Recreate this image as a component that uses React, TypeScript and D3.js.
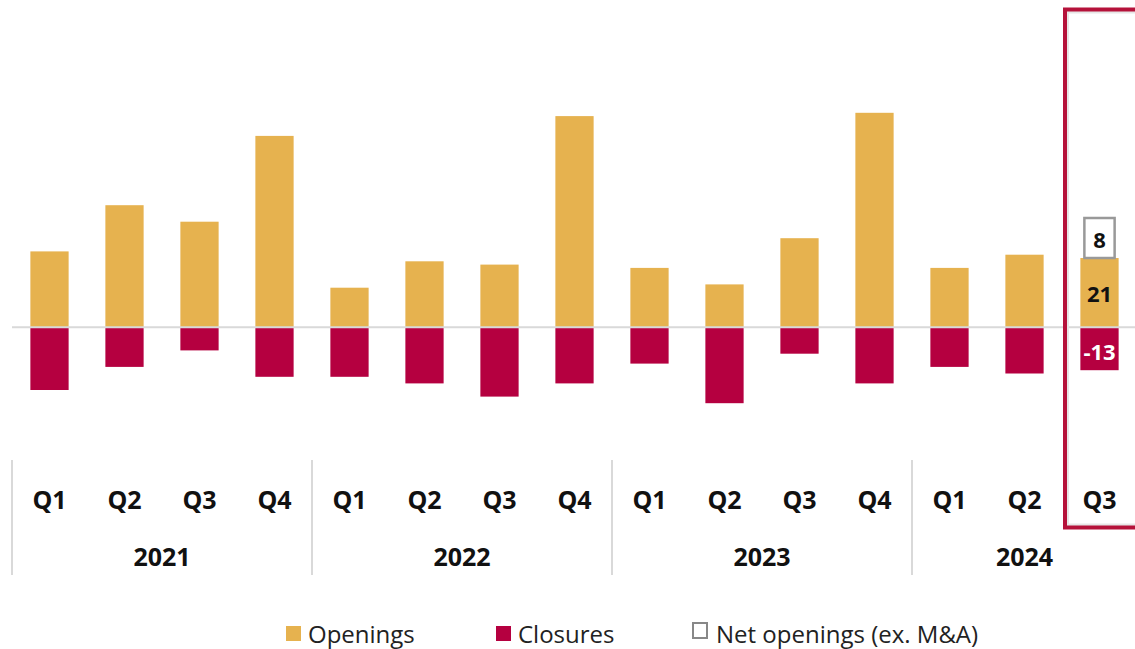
import React from "react";
import * as d3 from "d3";

const years = ["2021", "2022", "2023", "2024"];
const quarters = ["Q1", "Q2", "Q3", "Q4", "Q1", "Q2", "Q3", "Q4", "Q1", "Q2", "Q3", "Q4", "Q1", "Q2", "Q3"];
const quarterYears = ["2021", "2021", "2021", "2021", "2022", "2022", "2022", "2022", "2023", "2023", "2023", "2023", "2024", "2024", "2024"];
const openings = [23, 37, 32, 58, 12, 20, 19, 64, 18, 13, 27, 65, 18, 22, 21];
const closures = [-19, -12, -7, -15, -15, -17, -21, -17, -11, -23, -8, -17, -12, -14, -13];
const netOpeningsLast = 8;
const legendItems = ["Openings", "Closures", "Net openings (ex. M&A)"];

const W = 1135;
const H = 649;
const GOLD = "#E6B24F";
const CRIMSON = "#B50040";
const GRID = "#D9D9D9";
const FONT = "'Open Sans', 'Noto Sans', sans-serif";

export default function App() {
  const ids = quarters.map((q, i) => `${quarterYears[i]}-${q}`);
  const x = d3
    .scaleBand<string>()
    .domain(ids)
    .range([12, 12 + 75 * 15])
    .paddingInner(0.49)
    .paddingOuter(0.245);
  const step = x.step();
  const y = d3.scaleLinear().domain([-35, 65]).range([442.8, 112.8]);
  const y0 = y(0);
  const bw = x.bandwidth();
  const lastIdx = ids.length - 1;
  const lastX = x(ids[lastIdx]) as number;

  const yearStart = (yr: string) => {
    const first = ids.findIndex((d) => d.startsWith(yr));
    return (x(ids[first]) as number) - step * 0.245;
  };
  const yearCount = (yr: string) => quarterYears.filter((d) => d === yr).length;

  return (
    <svg
      width={W}
      height={H}
      style={{ position: "absolute", left: 0, top: 0, background: "#fff" }}
      fontFamily={FONT}
    >
      {/* bars */}
      {ids.map((id, i) => (
        <g key={id}>
          <rect x={x(id)} y={y(openings[i])} width={bw} height={y0 - y(openings[i])} fill={GOLD} />
          <rect x={x(id)} y={y0} width={bw} height={y(closures[i]) - y0} fill={CRIMSON} />
        </g>
      ))}
      {/* zero line */}
      <line x1={12} x2={W} y1={y0} y2={y0} stroke={GRID} strokeWidth={2} />

      {/* last-quarter labels */}
      <text
        x={lastX + bw / 2}
        y={(y(openings[lastIdx]) + y0) / 2}
        textAnchor="middle"
        dominantBaseline="central"
        fontWeight={700}
        fontSize={22}
        fill="#111"
      >
        {openings[lastIdx]}
      </text>
      <text
        x={lastX + bw / 2}
        y={(y(closures[lastIdx]) + y0) / 2 + 2}
        textAnchor="middle"
        dominantBaseline="central"
        fontWeight={700}
        fontSize={22}
        fill="#fff"
      >
        {closures[lastIdx]}
      </text>
      <rect
        x={lastX + 4}
        y={y(openings[lastIdx]) - 40}
        width={bw - 8}
        height={40}
        fill="#fff"
        stroke="#999"
        strokeWidth={2.5}
      />
      <text
        x={lastX + bw / 2}
        y={y(openings[lastIdx]) - 19}
        textAnchor="middle"
        dominantBaseline="central"
        fontWeight={700}
        fontSize={22}
        fill="#111"
      >
        {netOpeningsLast}
      </text>

      {/* year separators */}
      {years.map((yr) => (
        <line
          key={yr}
          x1={yearStart(yr)}
          x2={yearStart(yr)}
          y1={460}
          y2={575}
          stroke={GRID}
          strokeWidth={2}
        />
      ))}

      {/* quarter labels */}
      {ids.map((id, i) => (
        <text
          key={id}
          x={(x(id) as number) + bw / 2}
          y={499}
          textAnchor="middle"
          dominantBaseline="central"
          fontWeight={700}
          fontSize={25}
          fill="#111"
        >
          {quarters[i]}
        </text>
      ))}
      {/* year labels */}
      {years.map((yr) => {
        const s = yearStart(yr);
        return (
          <text
            key={yr}
            x={s + (step * yearCount(yr)) / 2}
            y={556}
            textAnchor="middle"
            dominantBaseline="central"
            fontWeight={700}
            fontSize={25}
            fill="#111"
          >
            {yr}
          </text>
        );
      })}

      {/* highlight box */}
      <rect x={1067.5} y={12} width={100} height={513} fill="none" stroke="#e6e6e6" strokeWidth={3} />
      <rect x={1065} y={9.5} width={100} height={518} fill="none" stroke="#B5123A" strokeWidth={4} />

      {/* legend */}
      <g>
        <rect x={286} y={626} width={15} height={15} fill={GOLD} />
        <text x={308} y={633} dominantBaseline="central" fontSize={24} fill="#222">
          {legendItems[0]}
        </text>
        <rect x={496} y={626} width={15} height={15} fill={CRIMSON} />
        <text x={518} y={633} dominantBaseline="central" fontSize={24} fill="#222">
          {legendItems[1]}
        </text>
        <rect x={693} y={623} width={14} height={15} fill="#fff" stroke="#888" strokeWidth={2} />
        <text x={716} y={633} dominantBaseline="central" fontSize={24} fill="#222">
          {legendItems[2]}
        </text>
      </g>
    </svg>
  );
}
